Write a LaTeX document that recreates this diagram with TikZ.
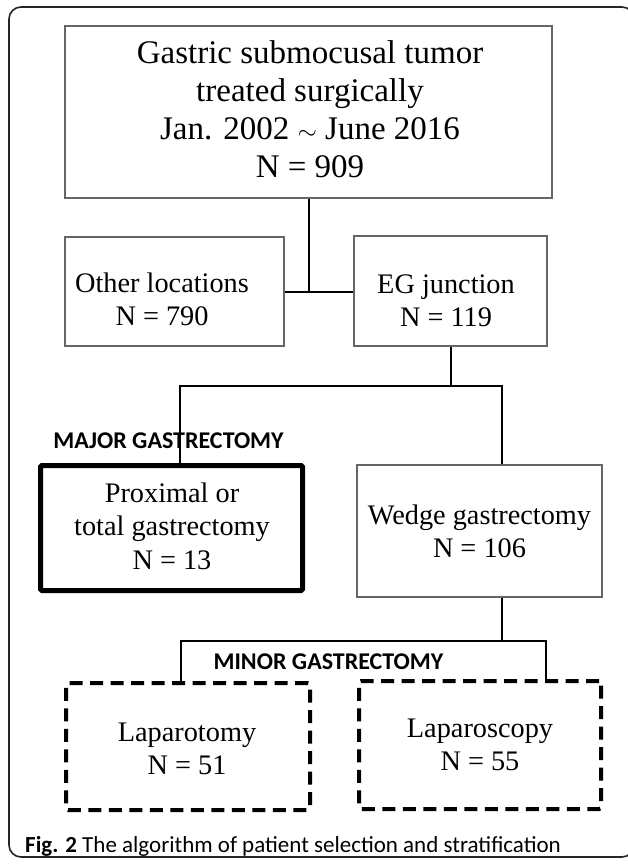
\documentclass[tikz,border=0pt]{standalone}
\usepackage{fontspec}
\setmainfont{Liberation Serif}
\newfontfamily\labelfont{Carlito}
\begin{document}
\begin{tikzpicture}[x=1pt,y=-1pt,
  box/.style={draw=black!60, line width=1.1pt, rectangle, inner sep=0pt},
  majorbox/.style={draw=black, line width=5pt, rectangle, inner sep=0pt, rounded corners=1.5pt},
  minorbox/.style={draw=black, line width=4pt, dash pattern=on 13pt off 7.5pt, rectangle, inner sep=0pt, rounded corners=2pt},
  conn/.style={draw=black, line width=2pt},
  txt/.style={anchor=base, inner sep=0pt, font=\fontsize{28.3}{33.7}\selectfont},
  toptxt/.style={anchor=base, inner sep=0pt, font=\fontsize{33}{38}\selectfont},
  lab/.style={anchor=base, inner sep=0pt, font=\labelfont\bfseries\fontsize{24}{28}\selectfont},
  captxt/.style={anchor=base west, inner sep=0pt, font=\labelfont\fontsize{23}{27}\selectfont},
]
\useasboundingbox (0,0) rectangle (627,864);
\fill[white] (0,0) rectangle (627,864);
% outer frame
\draw[line width=1.6pt, black!85, rounded corners=12pt] (9,7) rectangle (634,857);

% boxes
\node[box, minimum width=487pt, minimum height=172pt] (top) at (308.5,112) {};
\node[box, minimum width=219pt, minimum height=109pt] (other) at (174.5,291.5) {};
\node[box, minimum width=193pt, minimum height=110pt] (eg) at (450.5,291) {};
\node[majorbox, minimum width=262pt, minimum height=125pt] (major) at (171.5,528) {};
\node[box, minimum width=245pt, minimum height=132pt] (wedge) at (479.5,531) {};
\node[minorbox, minimum width=244pt, minimum height=127pt] (lapt) at (188,746.5) {};
\node[minorbox, minimum width=242pt, minimum height=128pt] (lapc) at (480,745) {};

% texts
\node[toptxt] (ttop) at (310,64) {\begin{tabular}[t]{@{}c@{}}Gastric submocusal tumor\\ treated surgically\\ Jan. 2002 $\sim$ June 2016\\ N = 909\end{tabular}};
\node[txt] (tother) at (162,292) {\begin{tabular}[t]{@{}c@{}}Other locations\\ N = 790\end{tabular}};
\node[txt] (teg) at (446,293) {\begin{tabular}[t]{@{}c@{}}EG junction\\ N = 119\end{tabular}};
\node[txt] (tmajor) at (172,502) {\begin{tabular}[t]{@{}c@{}}Proximal or\\ total gastrectomy\\ N = 13\end{tabular}};
\node[txt] (twedge) at (479.5,524) {\begin{tabular}[t]{@{}c@{}}Wedge gastrectomy\\ N = 106\end{tabular}};
\node[txt] (tlapt) at (187,741) {\begin{tabular}[t]{@{}c@{}}Laparotomy\\ N = 51\end{tabular}};
\node[txt] (tlapc) at (480,737) {\begin{tabular}[t]{@{}c@{}}Laparoscopy\\ N = 55\end{tabular}};

% group labels
\node[lab] (lmajor) at (168.5,448) {MAJOR GASTRECTOMY};
\node[lab] (lminor) at (328.5,669) {MINOR GASTRECTOMY};

% caption
\node[captxt] (cap) at (25,852) {\textbf{Fig. 2} The algorithm of patient selection and stratification};

% connectors
\coordinate (jL) at (180,386);
\coordinate (jR) at (502,386);
\coordinate (kL) at (181,641);
\coordinate (kM) at (502,641);
\coordinate (kR) at (546,641);
\draw[conn] (top.south) -- (top.south |- other.east);
\draw[conn] (other.east) -- (other.east -| eg.west);
\draw[conn] (eg.south) -- (eg.south |- jL);
\draw[conn] (major.north -| jL) -- (jL) -- (jR) -- (wedge.north -| jR);
\draw[conn] (wedge.south -| kM) -- (kM);
\draw[conn] (lapt.north -| kL) -- (kL) -- (kR) -- (lapc.north -| kR);
\end{tikzpicture}
\end{document}
